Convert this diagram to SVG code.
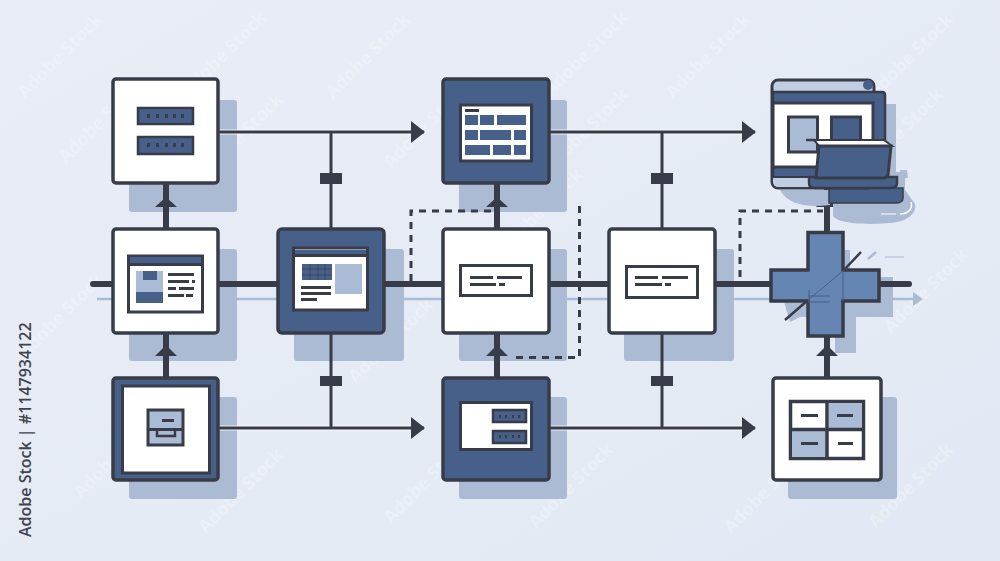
<svg xmlns="http://www.w3.org/2000/svg" width="1000" height="561" viewBox="0 0 1000 561">
<style>
.sh{fill:#abbbd4}
.w{fill:#fff;stroke:#383c48;stroke-width:3.5}
.d{fill:#46608a;stroke:#383c48;stroke-width:3.5}
.ico{fill:#fff;stroke:#383c48;stroke-width:3}
.bar{fill:#46608a;stroke:#383c48;stroke-width:2.5}
.l{fill:#383c48}
.m{fill:#46608a}
.lb{fill:#a9bbd5}
.halo{stroke:#fff;stroke-width:5;fill:none;opacity:.8}
.c{stroke:#383c48;stroke-width:3;fill:none}
.t{stroke:#383c48;stroke-width:6;fill:none}
.da{stroke:#383c48;stroke-width:3;fill:none;stroke-dasharray:7 6}
.wm{font-family:"Open Sans",sans-serif;font-weight:700;font-size:18px;fill:#fff;opacity:.24;text-anchor:middle}
</style>
<defs>
<linearGradient id="bg" x1="0" y1="0" x2="1" y2="1"><stop offset="0" stop-color="#e8edf6"/><stop offset="1" stop-color="#e3e9f4"/></linearGradient>
<marker id="ah" markerUnits="userSpaceOnUse" markerWidth="14" markerHeight="22" refX="13" refY="11" orient="auto"><path d="M0 0L14 11L0 22Z" fill="#383c48"/></marker>
</defs>
<rect width="1000" height="561" fill="url(#bg)"/>

<g id="watermarks">
<text class="wm" transform="translate(64,60) rotate(-45)">Adobe Stock</text>
<text class="wm" transform="translate(228,58) rotate(-45)">Adobe Stock</text>
<text class="wm" transform="translate(372,60) rotate(-45)">Adobe Stock</text>
<text class="wm" transform="translate(590,58) rotate(-45)">Adobe Stock</text>
<text class="wm" transform="translate(712,60) rotate(-45)">Adobe Stock</text>
<text class="wm" transform="translate(915,60) rotate(-45)">Adobe Stock</text>
<text class="wm" transform="translate(105,125) rotate(-45)">Adobe Stock</text>
<text class="wm" transform="translate(245,140) rotate(-45)">Adobe Stock</text>
<text class="wm" transform="translate(430,130) rotate(-45)">Adobe Stock</text>
<text class="wm" transform="translate(590,135) rotate(-45)">Adobe Stock</text>
<text class="wm" transform="translate(905,135) rotate(-45)">Adobe Stock</text>
<text class="wm" transform="translate(545,215) rotate(-45)">Adobe Stock</text>
<text class="wm" transform="translate(65,320) rotate(-45)">Adobe Stock</text>
<text class="wm" transform="translate(930,295) rotate(-45)">Adobe Stock</text>
<text class="wm" transform="translate(395,345) rotate(-45)">Adobe Stock</text>
<text class="wm" transform="translate(120,460) rotate(-45)">Adobe Stock</text>
<text class="wm" transform="translate(245,495) rotate(-45)">Adobe Stock</text>
<text class="wm" transform="translate(430,485) rotate(-45)">Adobe Stock</text>
<text class="wm" transform="translate(575,490) rotate(-45)">Adobe Stock</text>
<text class="wm" transform="translate(770,495) rotate(-45)">Adobe Stock</text>
<text class="wm" transform="translate(915,490) rotate(-45)">Adobe Stock</text>
</g>

<g id="shadows">
<rect class="sh" x="129" y="100" width="108" height="112" rx="3"/>
<rect class="sh" x="129" y="249" width="108" height="112" rx="3"/>
<rect class="sh" x="294" y="249" width="110" height="112" rx="3"/>
<rect class="sh" x="459" y="100" width="108" height="112" rx="3"/>
<rect class="sh" x="459" y="249" width="108" height="112" rx="3"/>
<rect class="sh" x="624" y="249" width="110" height="112" rx="3"/>
<rect class="sh" x="129" y="397" width="108" height="102" rx="3"/>
<rect class="sh" x="459" y="397" width="108" height="102" rx="3"/>
<rect class="sh" x="788" y="397" width="109" height="102" rx="3"/>
<path class="sh" d="M784 302L845 250H850V277H893V317H856V353H835V317H800L790 322Z"/>
</g>

<g id="connectors">
<path d="M97 299H915" stroke="#a9bbd5" stroke-width="2.5" fill="none"/>
<path d="M913 292L923 299L913 306Z" fill="#a9bbd5"/>
<path class="t" d="M93 284H909" stroke-linecap="round"/>
<path class="halo" d="M219 132H410M550 132H742M219 428H410M550 428H742"/>
<path class="c" d="M219 132H424" marker-end="url(#ah)"/>
<path class="c" d="M550 132H755" marker-end="url(#ah)"/>
<path class="c" d="M219 428H424" marker-end="url(#ah)"/>
<path class="c" d="M550 428H755" marker-end="url(#ah)"/>
<path class="c" d="M331 132V228M331 333V428M662 132V228M662 333V428"/>
<path class="l" d="M320 173h22v11h-22zM320 376h22v10h-22zM651 173h22v11h-22zM651 376h22v10h-22z"/>
<path class="t" d="M166 183V228M166 333V377M497 183V228M497 333V377M827 188V231M827 337V377"/>
<path class="l" d="M166 197L177 207H155ZM166 345L177 356H155ZM497 197L508 207H486ZM497 345L508 356H486ZM827 192L838 207H816ZM827 345L838 356H816Z"/>
<path class="da" d="M411 281V211H494"/>
<path class="da" d="M579.500 206V357.500H510"/>
<path class="da" d="M740 277V211H823"/>
</g>

<g id="node-top-left">
<rect class="w" x="113" y="79" width="105" height="104" rx="3"/>
<rect class="bar" x="138" y="108" width="55" height="16"/>
<rect class="bar" x="138" y="137" width="55" height="17"/>
<path class="l" d="M147 114h3v4h-3zM156 114h3v4h-3zM165 114h3v4h-3zM173 114h3v4h-3zM181 114h3v4h-3zM147 143h3v4h-3zM156 143h3v4h-3zM165 143h3v4h-3zM173 143h3v4h-3zM181 143h3v4h-3z"/>
</g>

<g id="node-mid-left">
<rect class="w" x="113" y="229" width="105" height="104" rx="3"/>
<rect class="ico" x="128.500" y="256" width="74" height="56"/>
<rect class="m" x="130" y="257" width="71" height="6"/>
<path class="l" d="M129 263h73v3h-73z"/>
<rect class="lb" x="136" y="271" width="27" height="32"/>
<rect class="m" x="143" y="271" width="14" height="9"/>
<rect class="m" x="136" y="292" width="27" height="11"/>
<path class="l" d="M168 273h26v3h-26zM168 280h21v3h-21zM192 280h3v3h-3zM168 287h8v3h-8zM179 287h15v3h-15zM168 294h16v3h-16zM186 294h7v3h-7z"/>
</g>

<g id="node-mid-dark">
<rect class="d" x="278" y="229" width="106" height="104" rx="4"/>
<rect class="ico" x="293.500" y="248" width="74" height="62"/>
<rect class="m" x="295" y="250" width="71" height="4"/>
<path class="l" d="M294 254h73v3h-73z"/>
<rect class="m" x="302" y="264" width="30" height="16"/>
<path d="M302 269h30M302 275h30M310 264v16M318 264v16M325 264v16" stroke="#383c48" stroke-width=".7" fill="none"/>
<rect class="lb" x="335" y="264" width="27" height="30"/>
<path class="l" d="M301 286h30v3h-30zM301 292h30v3h-30zM301 298h16v3h-16z"/>
</g>

<g id="node-top-center">
<rect class="d" x="443" y="79" width="106" height="104" rx="3"/>
<rect class="ico" x="460.500" y="105" width="71" height="56"/>
<path class="l" d="M465 109h14v3h-14z"/>
<path class="m" d="M465 115h13v10h-13zM480 115h14v10h-14zM497 115h29v10h-29zM465 130h13v10h-13zM480 130h31v10h-31zM514 130h12v10h-12zM465 145h25v10h-25zM493 145h18v10h-18zM514 145h12v10h-12z"/>
</g>

<g id="node-mid-center">
<rect class="w" x="443" y="229" width="106" height="104" rx="3"/>
<rect class="ico" x="460.500" y="265.500" width="71" height="30"/>
<path class="l" d="M470 276h23v3h-23zM497 276h25v3h-25zM470 283h26v3h-26zM499 283h6v3h-6z"/>
</g>

<g id="node-mid-right">
<rect class="w" x="609" y="229" width="106" height="104" rx="3"/>
<rect class="ico" x="626.500" y="266.500" width="71" height="31"/>
<path class="l" d="M635 276h23v3h-23zM662 276h26v3h-26zM635 283h27v3h-27zM665 283h6v3h-6z"/>
</g>

<g id="node-bottom-left">
<rect class="d" x="113" y="378" width="105" height="102" rx="3"/>
<rect class="ico" x="122.500" y="386" width="87" height="87"/>
<rect x="148" y="410" width="35" height="35" fill="#a9bbd5" stroke="#383c48" stroke-width="3"/>
<path class="l" d="M162 419h12v3h-12zM148 428h35v3h-35z"/>
<path d="M157 430v6h18v-6" fill="none" stroke="#383c48" stroke-width="2.500"/>
</g>

<g id="node-bottom-center">
<rect class="d" x="443" y="378" width="106" height="102" rx="3"/>
<rect class="ico" x="460.500" y="402.500" width="71" height="47"/>
<rect class="bar" x="493" y="410" width="33" height="12"/>
<rect class="bar" x="493" y="431" width="33" height="12"/>
<path class="l" d="M499 415h2v3h-2zM505 415h2v3h-2zM512 415h2v3h-2zM518 415h2v3h-2zM499 435h2v3h-2zM505 435h2v3h-2zM512 435h2v3h-2zM518 435h2v3h-2z"/>
</g>

<g id="node-bottom-right">
<rect class="w" x="773" y="378" width="108" height="102" rx="3"/>
<rect x="790.500" y="401.500" width="73" height="57" fill="#fff" stroke="#383c48" stroke-width="3.500"/>
<rect class="lb" x="829" y="403" width="33" height="25"/>
<rect class="lb" x="792" y="431" width="34" height="26"/>
<path d="M827 401v57M790 429.500h73" stroke="#383c48" stroke-width="3.500" fill="none"/>
<path class="l" d="M801 414h17v3h-17zM837 414h16v3h-16zM801 442h17v3h-17zM838 442h15v3h-15z"/>
</g>

<g id="node-cross">
<path d="M808 232.500H843V270H879V301H843V336H808V301H771V270H808Z" fill="#6585b3" stroke="#383c48" stroke-width="3.500"/>
<path d="M785 320L808 300M843 271L861 252" stroke="#383c48" stroke-width="2.500" fill="none"/>
<path d="M808 300L843 271M808 296H830M808 302H830M843 270V301M809 290V302" stroke="#46608a" stroke-width="1" fill="none"/>
<path d="M868 259L876 252" stroke="#a9bbd5" stroke-width="2.500" fill="none"/>
<path d="M885 257H904" stroke="#a9bbd5" stroke-width="1" fill="none"/>
</g>

<g id="node-top-right">
<path class="sh" d="M880 104H896V172H900V170H907L908 178H905V190L915 204C917 214 906 222 890 223C868 225 838 224 833 216V200H880Z"/>
<path d="M780 190H830V205C805 208 788 204 780 190Z" fill="#abbbd4"/>
<path d="M900 214C909 214 913 208 911 202" fill="none" stroke="#fff" stroke-width="1.500"/>
<path d="M881 214H896" stroke="#fff" stroke-width="1"/>
<path d="M829 188H903V198Q903 203 895 203H829Z" fill="#46608a" stroke="#383c48" stroke-width="1.500"/>
<rect x="772" y="80" width="102" height="108" rx="6" fill="#c2cfe2" stroke="#383c48" stroke-width="3"/>
<circle cx="868" cy="85" r="5" fill="#46608a"/>
<path d="M773 92H882Q885 92 885 95V178H773Z" fill="#46608a" stroke="#383c48" stroke-width="2.500"/>
<rect x="773" y="103" width="100" height="64" fill="#fff" stroke="#383c48" stroke-width="3"/>
<path d="M773 177H815V187H779Q773 187 773 182Z" fill="#c2cfe2"/>
<path d="M772 177H830" stroke="#383c48" stroke-width="2"/>
<path d="M809 177H897V183Q897 188 891 188H815Q809 188 809 183Z" fill="#46608a" stroke="#383c48" stroke-width="2.500"/>
<rect x="788.500" y="117" width="29" height="35" fill="#a9bbd5" stroke="#383c48" stroke-width="3"/>
<rect x="831.500" y="117" width="29" height="24" fill="#46608a" stroke="#383c48" stroke-width="3"/>
<path d="M806 140H815" stroke="#383c48" stroke-width="2.500"/>
<path d="M814 140H884L892 146H819Z" fill="#fff" stroke="#383c48" stroke-width="2"/>
<path d="M819 146H891L888 175Q887 178 883 178H816Z" fill="#46608a" stroke="#383c48" stroke-width="3"/>
</g>

<text x="0" y="0" transform="translate(31,537) rotate(-90)" font-family="'Open Sans',sans-serif" font-weight="600" font-size="16" fill="#3f4250">Adobe Stock | #1147934122</text>
</svg>
